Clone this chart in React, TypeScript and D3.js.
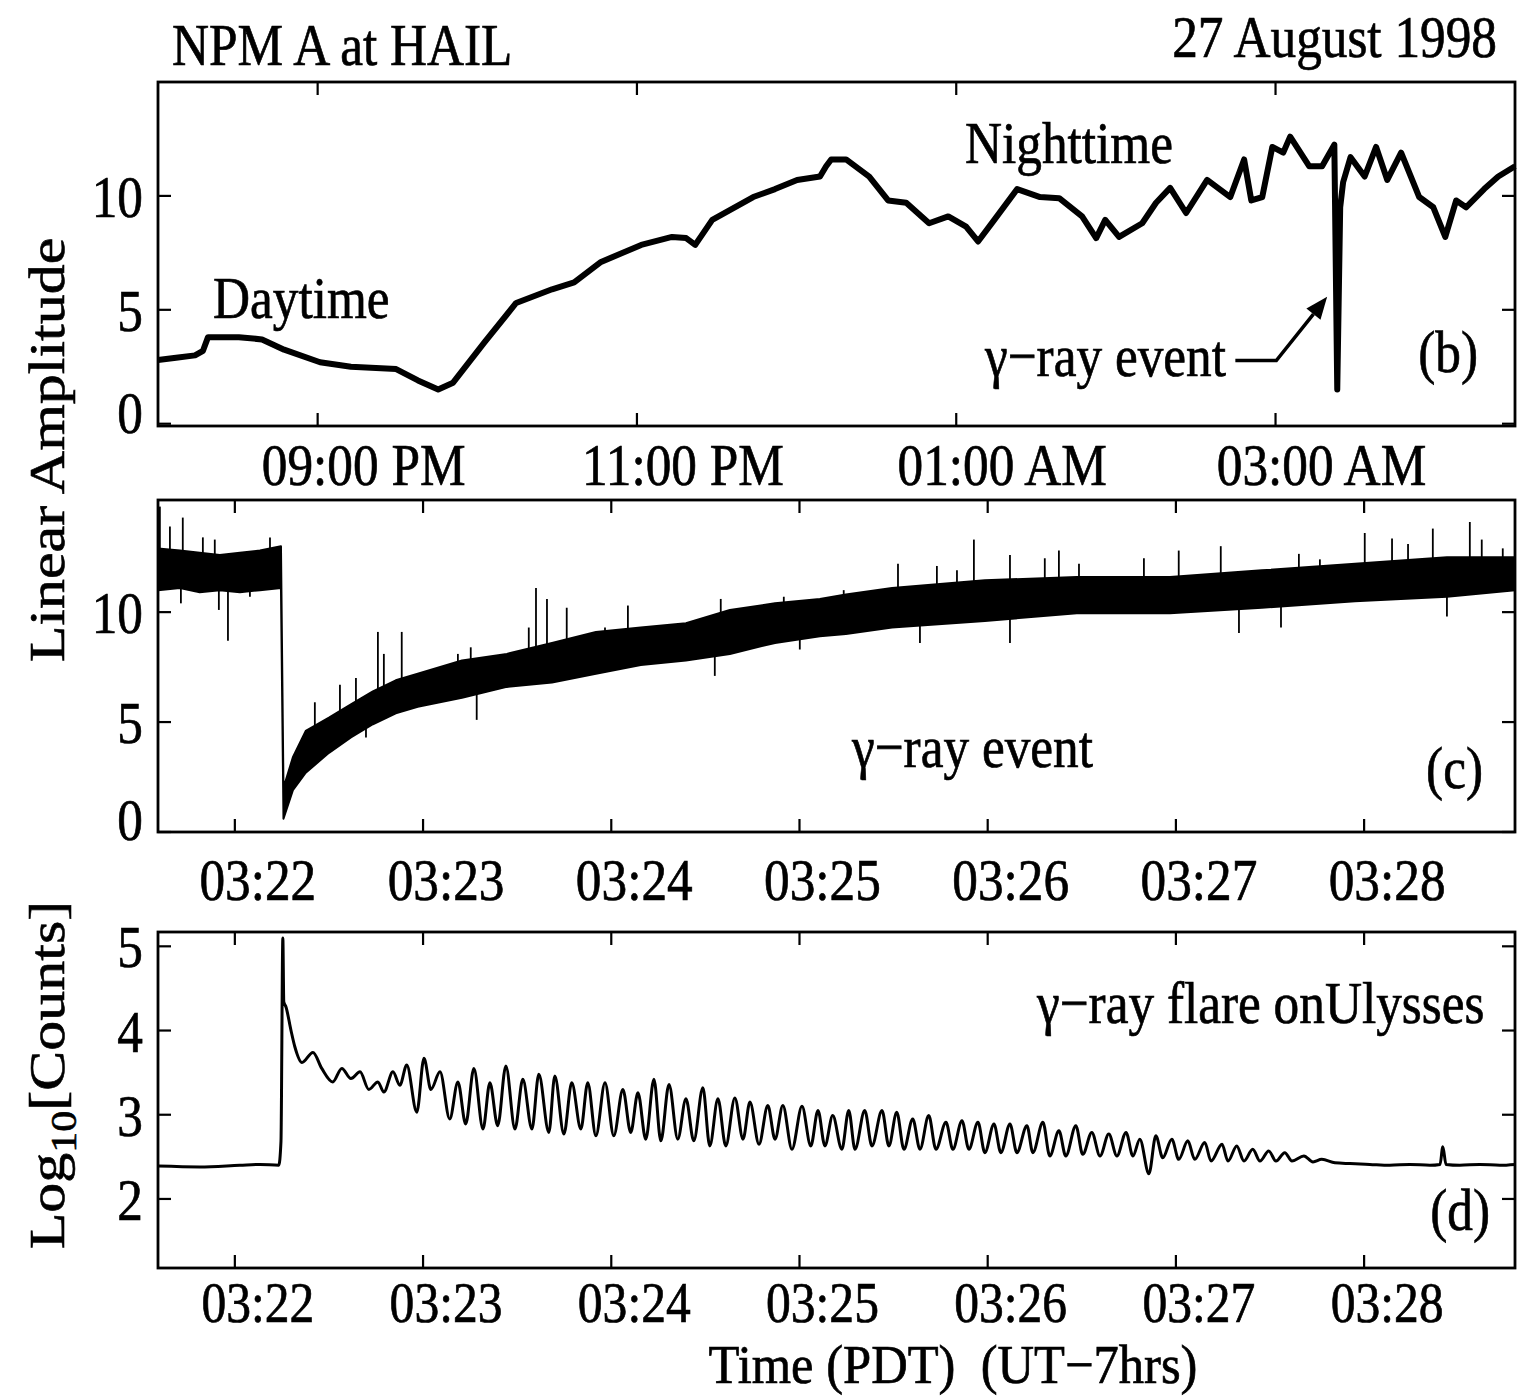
import React from "react";
import * as d3 from "d3";

// ---------- Panel (b): minutes after 20:00 PDT, linear amplitude ----------
const bMinutes = [0, 6.8, 13.9, 16.9, 18.8, 30.4, 39.1, 47.4, 60.9, 72.5, 89.5, 97.7, 105.3, 110.9, 122.9, 134.6, 148.1, 156.4, 166.5, 181.6, 193.2, 198.5, 201.9, 208.3, 223.7, 231.9, 240.2, 248.8, 251.1, 253.0, 258.6, 267.3, 274.4, 281.2, 289.8, 297.0, 303.7, 308.2, 314.3, 322.9, 331.5, 338.7, 347.3, 352.6, 356.0, 361.2, 369.9, 375.1, 380.4, 386.4, 394.3, 403.0, 408.2, 410.9, 415.0, 418.8, 422.9, 425.5, 432.7, 437.5, 442.1, 443.2, 444.3, 445.4, 448.2, 453.5, 457.8, 462.0, 467.2, 474.0, 479.3, 483.8, 487.9, 491.6, 498.4, 503.7, 510];
const bAmp = [2.8, 2.9, 3.0, 3.2, 3.8, 3.8, 3.7, 3.25, 2.7, 2.5, 2.4, 1.9, 1.5, 1.8, 3.6, 5.3, 5.9, 6.2, 7.1, 7.85, 8.2, 8.15, 7.85, 8.95, 9.95, 10.3, 10.7, 10.85, 11.3, 11.6, 11.6, 10.85, 9.8, 9.7, 8.8, 9.1, 8.65, 8.0, 8.95, 10.3, 9.95, 9.9, 9.1, 8.15, 8.95, 8.2, 8.8, 9.7, 10.35, 9.25, 10.7, 9.95, 11.6, 9.8, 9.95, 12.15, 11.9, 12.6, 11.3, 11.3, 12.25, 1.5, 9.5, 10.6, 11.7, 10.85, 12.15, 10.7, 11.9, 9.95, 9.5, 8.2, 9.8, 9.5, 10.3, 10.85, 11.3];
const bTickMinutes = [60, 180, 300, 420];
const bTickLabels = ["09:00 PM", "11:00 PM", "01:00 AM", "03:00 AM"];
const bYTicks = [0, 5, 10];

// ---------- Panel (c): seconds after 03:21:00 PDT, noisy band ----------
const cBandSec = [35.5, 42.5, 48.8, 55.2, 61.6, 68.0, 74.7, 75.5, 78.5, 82.6, 90.0, 97.0, 104.0, 111.3, 118.3, 132.4, 146.7, 161.1, 175.1, 189.4, 203.8, 217.8, 232.2, 246.5, 254.8, 269.5, 299.1, 328.4, 358.1, 387.4, 417.1, 446.4, 468.1];
const cBandLow = [11.0, 11.1, 10.9, 11.0, 10.9, 11.0, 11.1, 0.6, 1.9, 2.7, 3.6, 4.3, 4.9, 5.4, 5.7, 6.1, 6.6, 6.8, 7.2, 7.6, 7.8, 8.1, 8.6, 8.9, 9.0, 9.3, 9.6, 9.95, 9.95, 10.2, 10.5, 10.7, 11.0];
const cBandHigh = [12.9, 12.8, 12.7, 12.6, 12.7, 12.8, 13.0, 2.0, 3.4, 4.6, 5.2, 5.8, 6.4, 6.9, 7.2, 7.8, 8.1, 8.6, 9.1, 9.3, 9.5, 10.1, 10.4, 10.6, 10.8, 11.1, 11.45, 11.6, 11.6, 11.9, 12.2, 12.5, 12.5];
const cSpikeUpSec = [36.1, 39.3, 43.4, 49.8, 53.6, 71.2, 85.5, 93.5, 98.6, 105.6, 107.5, 113.2, 131.1, 135.2, 153.7, 156.0, 159.5, 165.8, 178.0, 185.3, 214.9, 235.0, 254.1, 271.4, 283.8, 290.2, 295.6, 307.1, 318.2, 322.7, 329.1, 349.8, 360.9, 374.3, 399.2, 405.9, 420.2, 428.9, 434.0, 441.9, 453.7, 457.5, 464.2];
const cSpikeUpTop = [14.8, 13.9, 14.3, 13.4, 13.3, 13.4, 5.9, 6.7, 7.0, 9.1, 8.1, 9.1, 8.1, 8.4, 9.3, 11.1, 10.6, 10.2, 9.3, 10.3, 10.6, 10.7, 11.0, 12.2, 12.1, 11.9, 13.3, 12.6, 12.45, 12.8, 12.2, 12.45, 12.8, 13.0, 12.65, 12.4, 13.6, 13.35, 13.1, 13.8, 14.1, 13.3, 12.9];
const cSpikeDownSec = [42.8, 54.9, 57.8, 64.8, 101.8, 137.1, 213.0, 240.1, 278.4, 307.1, 380.1, 393.5, 446.4];
const cSpikeDownBottom = [10.4, 10.1, 8.7, 10.7, 4.3, 5.1, 7.1, 8.3, 8.6, 8.6, 9.05, 9.3, 9.8];

// ---------- Panel (d): seconds after 03:21:00 PDT, log10 counts ----------
const dSec = [35.5, 48.8, 61.6, 68.0, 74.0, 74.7, 75.3, 75.6, 76.3, 77.9, 79.1, 81.4, 84.9, 87.7, 91.2, 94.1, 97.0, 99.9, 102.7, 105.6, 107.5, 110.4, 112.6, 114.8, 118.0, 120.3, 122.5, 125.4, 128.5, 131.1, 133.6, 136.2, 139.1, 141.3, 143.8, 146.4, 149.3, 151.8, 154.7, 156.9, 160.1, 162.0, 164.9, 167.4, 170.3, 172.5, 175.1, 178.0, 180.8, 183.7, 186.2, 188.5, 191.0, 193.6, 195.8, 198.4, 201.2, 203.8, 206.3, 209.2, 211.4, 214.0, 216.5, 219.4, 222.0, 224.2, 227.1, 229.9, 232.2, 234.7, 237.6, 240.8, 243.6, 245.9, 248.1, 250.6, 253.5, 255.7, 257.7, 260.8, 263.1, 266.3, 268.5, 271.0, 273.3, 276.1, 278.4, 281.2, 283.5, 286.7, 288.9, 291.8, 294.0, 296.9, 299.1, 302.0, 304.2, 307.1, 309.3, 312.5, 314.4, 317.6, 319.8, 322.7, 324.9, 328.1, 330.3, 333.2, 335.8, 338.6, 341.2, 344.1, 346.3, 348.5, 351.4, 353.6, 355.8, 358.7, 360.9, 363.8, 366.0, 369.2, 371.2, 374.7, 376.6, 379.4, 381.7, 384.5, 386.8, 389.6, 391.9, 394.7, 397.0, 400.8, 403.7, 406.5, 410.7, 415.5, 421.8, 428.2, 434.6, 441.0, 444.2, 445.1, 446.1, 450.5, 456.9, 463.3, 468.1];
const dLog = [2.39, 2.38, 2.40, 2.41, 2.40, 2.68, 5.10, 4.34, 4.28, 4.00, 3.81, 3.62, 3.74, 3.55, 3.39, 3.55, 3.43, 3.51, 3.30, 3.39, 3.27, 3.51, 3.35, 3.59, 3.03, 3.67, 3.30, 3.51, 2.95, 3.39, 2.89, 3.55, 2.83, 3.38, 2.87, 3.58, 2.83, 3.42, 2.83, 3.48, 2.79, 3.46, 2.77, 3.38, 2.83, 3.38, 2.75, 3.38, 2.75, 3.30, 2.79, 3.26, 2.71, 3.42, 2.69, 3.36, 2.71, 3.19, 2.69, 3.32, 2.63, 3.19, 2.63, 3.20, 2.71, 3.15, 2.65, 3.11, 2.71, 3.11, 2.59, 3.10, 2.63, 3.05, 2.63, 2.99, 2.59, 3.05, 2.59, 3.05, 2.63, 3.05, 2.63, 3.03, 2.59, 2.95, 2.59, 2.99, 2.59, 2.91, 2.59, 2.93, 2.59, 2.91, 2.55, 2.89, 2.55, 2.89, 2.55, 2.87, 2.55, 2.91, 2.51, 2.81, 2.51, 2.87, 2.53, 2.79, 2.51, 2.77, 2.51, 2.79, 2.51, 2.71, 2.30, 2.75, 2.49, 2.71, 2.47, 2.69, 2.47, 2.67, 2.45, 2.65, 2.45, 2.63, 2.45, 2.59, 2.45, 2.57, 2.45, 2.55, 2.45, 2.51, 2.44, 2.47, 2.43, 2.42, 2.41, 2.40, 2.41, 2.40, 2.41, 2.62, 2.41, 2.40, 2.41, 2.40, 2.41];

const tTickSec = [60, 120, 180, 240, 300, 360, 420];
const tTickLabels = ["03:22", "03:23", "03:24", "03:25", "03:26", "03:27", "03:28"];
const cYTicks = [0, 5, 10];
const dYTicks = [2, 3, 4, 5];

// ---------- layout ----------
const W = 1525, H = 1396;
const L = 158, R = 1515;
const FONT = "'Liberation Serif', 'Times New Roman', Times, serif";
const SX = 0.855;

function Txt({ x, y, anchor = "start", size = 60, rotate = 0, sx = SX, children, style }: any) {
  const tr = `translate(${x},${y}) scale(${sx},1)` + (rotate ? ` rotate(${rotate})` : "");
  return (
    <text transform={tr} textAnchor={anchor} fontFamily={FONT} fontSize={size} fill="#000"
      stroke="#000" strokeWidth={0.7} style={style}>
      {children}
    </text>
  );
}

function Frame({ top, bottom, x, y, xTicks, yTicks }: any) {
  const tl = 13;
  return (
    <g stroke="#000" strokeWidth={2.2} fill="none">
      <rect x={L} y={top} width={R - L} height={bottom - top} strokeWidth={2.8} />
      {xTicks.map((t: number, i: number) => (
        <g key={"x" + i}>
          <line x1={x(t)} x2={x(t)} y1={bottom} y2={bottom - tl} />
          <line x1={x(t)} x2={x(t)} y1={top} y2={top + tl} />
        </g>
      ))}
      {yTicks.map((t: number, i: number) => (
        <g key={"y" + i}>
          <line x1={L} x2={L + tl} y1={y(t)} y2={y(t)} />
          <line x1={R} x2={R - tl} y1={y(t)} y2={y(t)} />
        </g>
      ))}
    </g>
  );
}

export default function App() {
  const xb = d3.scaleLinear().domain([0, 510]).range([L, R]);
  const xt = d3.scaleLinear().domain([35.5, 468.1]).range([L, R]);
  const yb = d3.scaleLinear().domain([-0.1, 15]).range([426, 82]);
  const yc = d3.scaleLinear().domain([0, 15.1]).range([832, 500]);
  const yd = d3.scaleLinear().domain([1.18, 5.17]).range([1268, 932]);

  const idxB = d3.range(bMinutes.length);
  const lineB = d3.line<number>().x((i) => xb(bMinutes[i])).y((i) => yb(bAmp[i]))(idxB) || "";

  const idxC = d3.range(cBandSec.length);
  const areaC = d3.area<number>()
    .x((i) => xt(cBandSec[i]))
    .y0((i) => yc(cBandLow[i]))
    .y1((i) => yc(cBandHigh[i]))(idxC) || "";

  const bandMid = (s: number) => {
    let i = d3.bisectLeft(cBandSec, s);
    i = Math.max(1, Math.min(cBandSec.length - 1, i));
    const t = (s - cBandSec[i - 1]) / (cBandSec[i] - cBandSec[i - 1]);
    const m0 = (cBandLow[i - 1] + cBandHigh[i - 1]) / 2;
    const m1 = (cBandLow[i] + cBandHigh[i]) / 2;
    return m0 + (m1 - m0) * t;
  };

  const idxD = d3.range(dSec.length);
  const lineD = d3.line<number>().curve(d3.curveMonotoneX)
    .x((i) => xt(dSec[i])).y((i) => yd(dLog[i]))(idxD) || "";

  // arrow for gamma-ray event annotation in (b), in data coordinates
  const aTail = [xb(404.9), yb(2.77)];
  const aElbow = [xb(420.3), yb(2.77)];
  const aTip = [xb(439.4), yb(5.57)];
  const dx = aTip[0] - aElbow[0], dy = aTip[1] - aElbow[1];
  const len = Math.hypot(dx, dy);
  const ux = dx / len, uy = dy / len;
  const hl = 22, hw = 9;
  const bx = aTip[0] - ux * hl, by = aTip[1] - uy * hl;
  const head = `${aTip[0]},${aTip[1]} ${bx - uy * hw},${by + ux * hw} ${bx + uy * hw},${by - ux * hw}`;

  const yLabel = (y: any, ticks: number[], zeroShift: number) =>
    ticks.map((t, i) => (
      <Txt key={i} x={143} y={y(t) + 21 - (t === 0 ? zeroShift : 0)} anchor="end">
        {String(t)}
      </Txt>
    ));

  return (
    <svg width={W} height={H} style={{ position: "absolute", left: 0, top: 0, background: "#fff" }}>
      <rect x={0} y={0} width={W} height={H} fill="#fff" />

      {/* titles */}
      <Txt x={172} y={65}>NPM A at HAIL</Txt>
      <Txt x={1497} y={57} anchor="end">27 August 1998</Txt>

      {/* ---- panel b ---- */}
      <path d={lineB} fill="none" stroke="#000" strokeWidth={6} strokeLinejoin="round" />
      <Frame top={82} bottom={426} x={xb} y={yb} xTicks={bTickMinutes} yTicks={bYTicks} />
      {yLabel(yb, bYTicks, 12)}
      {bTickMinutes.map((t, i) => (
        <Txt key={i} x={xb(t) + 46} y={485} anchor="middle">{bTickLabels[i]}</Txt>
      ))}
      <Txt x={213} y={318}>Daytime</Txt>
      <Txt x={965} y={163}>Nighttime</Txt>
      <Txt x={985} y={376}>γ−ray event</Txt>
      <polyline points={`${aTail[0]},${aTail[1]} ${aElbow[0]},${aElbow[1]} ${bx},${by}`} fill="none" stroke="#000" strokeWidth={3.5} />
      <polygon points={head} fill="#000" />
      <Txt x={1478} y={372} anchor="end">(b)</Txt>

      {/* ---- panel c ---- */}
      <path d={areaC} fill="#000" stroke="#000" strokeWidth={2} strokeLinejoin="round" />
      <g stroke="#000" strokeWidth={1.8}>
        {cSpikeUpSec.map((s, i) => (
          <line key={"u" + i} x1={xt(s)} x2={xt(s)} y1={yc(bandMid(s))} y2={yc(cSpikeUpTop[i])} />
        ))}
        {cSpikeDownSec.map((s, i) => (
          <line key={"d" + i} x1={xt(s)} x2={xt(s)} y1={yc(bandMid(s))} y2={yc(cSpikeDownBottom[i])} />
        ))}
      </g>
      <Frame top={500} bottom={832} x={xt} y={yc} xTicks={tTickSec} yTicks={cYTicks} />
      {yLabel(yc, cYTicks, 13)}
      {tTickSec.map((t, i) => (
        <Txt key={i} x={xt(t) + 23} y={900} anchor="middle">{tTickLabels[i]}</Txt>
      ))}
      <Txt x={852} y={767}>γ−ray event</Txt>
      <Txt x={1483} y={788} anchor="end">(c)</Txt>

      {/* ---- panel d ---- */}
      <path d={lineD} fill="none" stroke="#000" strokeWidth={3} strokeLinejoin="round" />
      <Frame top={932} bottom={1268} x={xt} y={yd} xTicks={tTickSec} yTicks={dYTicks} />
      {yLabel(yd, dYTicks, 0)}
      {tTickSec.map((t, i) => (
        <Txt key={i} x={xt(t) + 23} y={1322} size={58} anchor="middle">{tTickLabels[i]}</Txt>
      ))}
      <Txt x={1037} y={1023}>γ−ray flare onUlysses</Txt>
      <Txt x={1490} y={1230} anchor="end">(d)</Txt>

      {/* axis titles */}
      <Txt x={64} y={450} anchor="middle" rotate={-90}>Linear Amplitude</Txt>
      <Txt x={64} y={1075} anchor="middle" rotate={-90}>
        <tspan>Log</tspan>
        <tspan dy={14} fontSize={42}>10</tspan>
        <tspan dy={-14}>[Counts]</tspan>
      </Txt>
      <Txt x={953} y={1383} anchor="middle" size={55} sx={0.92} style={{ whiteSpace: "pre" }}>
        Time (PDT)  (UT−7hrs)
      </Txt>
    </svg>
  );
}
